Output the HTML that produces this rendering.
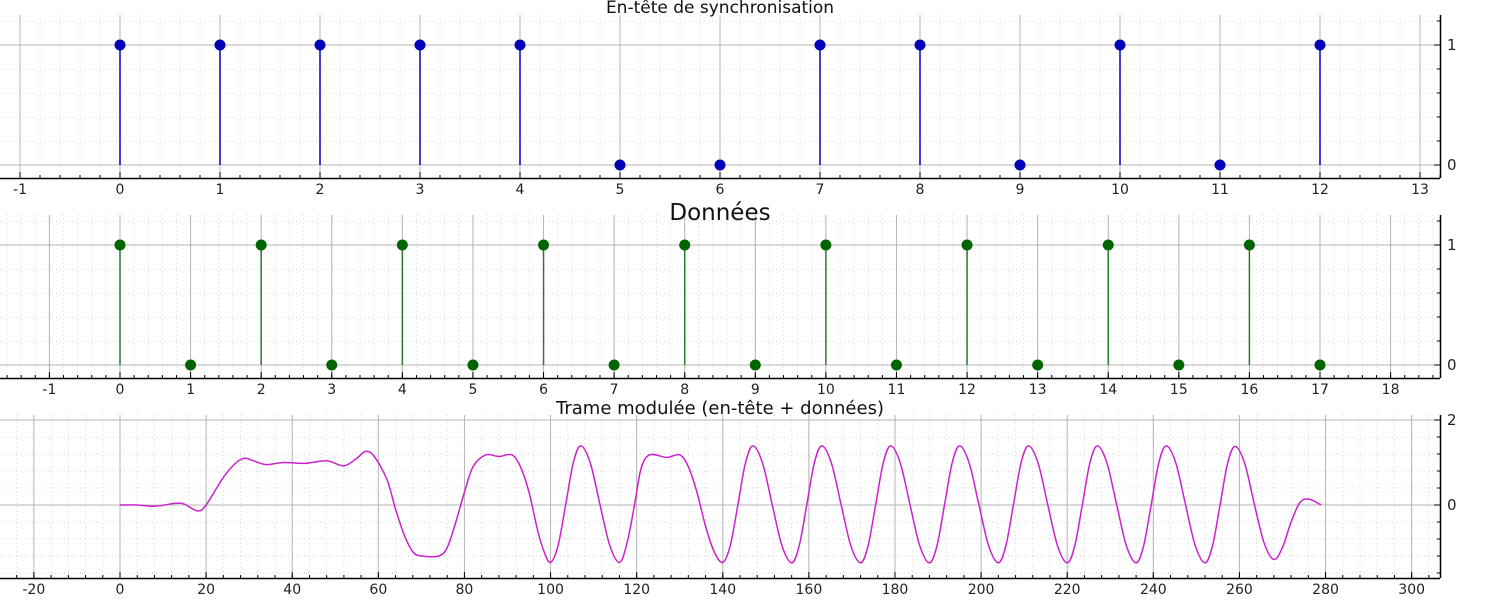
<!DOCTYPE html>
<html><head><meta charset="utf-8">
<style>
html,body{margin:0;padding:0;background:#fff;}
svg{display:block;font-family:"DejaVu Sans","Liberation Sans",sans-serif;}
</style></head>
<body>
<svg id="chart" width="1500" height="600" viewBox="0 0 1500 600" xmlns="http://www.w3.org/2000/svg"></svg>
<script>
// ---- data ----
const headerBits = [1,1,1,1,1,0,0,1,1,0,1,0,1];
const dataBits = [1,0,1,0,1,0,1,0,1,0,1,0,1,0,1,0,1,0];
const headerXTicks = ["-1","0","1","2","3","4","5","6","7","8","9","10","11","12","13"];
const dataXTicks = ["-1","0","1","2","3","4","5","6","7","8","9","10","11","12","13","14","15","16","17","18"];
const bitYTicks = ["0","1"];
const sigYTicks = ["0","2"];
const sigXTicks = ["-20","0","20","40","60","80","100","120","140","160","180","200","220","240","260","280","300"];
const sigT = [0,4,8,13,15,18,20,24,27,29,31,34,38,43,48,52,55,57,59,62,64,66,68,70,74,76,78,80,82,85,88,91,93,95,97,98.5,
  100,101.75,103.5,105.25,107,109.25,111.5,113.75,116,117.75,119.5,121,123,127,130,132,134,136,138,
  140,141.75,143.5,145.25,147,149.25,151.5,153.75,156,
  157.75,159.5,161.25,163,165.25,167.5,169.75,172,
  173.75,175.5,177.25,179,181.25,183.5,185.75,188,
  189.75,191.5,193.25,195,197.25,199.5,201.75,204,
  205.75,207.5,209.25,211,213.25,215.5,217.75,220,
  221.75,223.5,225.25,227,229.25,231.5,233.75,236,
  237.75,239.5,241.25,243,245.25,247.5,249.75,252,
  253.75,255.5,257.25,259,261.25,263.5,265.75,268,270,272,274,276,279];
const sigV = [0,0,-0.03,0.04,0.02,-0.14,0,0.65,1.0,1.1,1.04,0.95,1.0,0.98,1.04,0.92,1.1,1.26,1.15,0.6,-0.1,-0.7,-1.1,-1.2,-1.2,-1.0,-0.4,0.3,0.9,1.18,1.14,1.18,0.9,0.3,-0.6,-1.1,
  -1.35,-0.95,0,0.98,1.39,0.98,0,-0.95,-1.35,-0.9,0,0.85,1.18,1.12,1.18,0.9,0.3,-0.5,-1.1,
  -1.35,-0.95,0,0.98,1.39,0.98,0,-0.96,-1.36,
  -0.96,0,0.98,1.39,0.98,0,-0.96,-1.36,
  -0.96,0,0.98,1.39,0.98,0,-0.96,-1.36,
  -0.96,0,0.98,1.39,0.98,0,-0.96,-1.36,
  -0.96,0,0.98,1.39,0.98,0,-0.96,-1.36,
  -0.96,0,0.98,1.39,0.98,0,-0.96,-1.36,
  -0.96,0,0.98,1.39,0.98,0,-0.96,-1.36,
  -0.96,0,0.98,1.38,0.97,0,-0.9,-1.28,-1.0,-0.4,0.05,0.14,0];

const NS="http://www.w3.org/2000/svg";
const svg=document.getElementById('chart');
function mk(tag,attrs,parent){const e=document.createElementNS(NS,tag);for(const k in attrs)e.setAttribute(k,attrs[k]);(parent||svg).appendChild(e);return e;}

function panel(o){
  const g=mk('g',{});
  
  
  const L=0,R=1440,T=o.top,B=o.bottom;
  const sx=v=>o.x0+(v)*o.xs;
  const sy=v=>o.y0-(v)*o.ys;
  for(let v=Math.ceil(o.xmin/o.xminor)*o.xminor; sx(v)<=R; v+=o.xminor){const x=sx(v); if(x<L)continue;
    mk('line',{x1:x,x2:x,y1:T,y2:B,stroke:'#d6d6d6','stroke-dasharray':'1,3','stroke-width':1},g);}
  for(let v=Math.ceil(o.ymin/o.yminor)*o.yminor; sy(v)>=T; v+=o.yminor){const y=sy(v); if(y>B)continue;
    mk('line',{x1:L,x2:R,y1:y,y2:y,stroke:'#d6d6d6','stroke-dasharray':'1,3','stroke-width':1},g);}
  o.xticks.forEach(t=>{const x=sx(parseFloat(t));
    mk('line',{x1:x,x2:x,y1:T,y2:B,stroke:'#b4b4b4','stroke-width':1},g);
    mk('line',{x1:x,x2:x,y1:B-6,y2:B,stroke:'#000','stroke-width':1},g);
    const tx=mk('text',{x:x,y:B+16,'font-size':14,'text-anchor':'middle',fill:'#222'},g);tx.textContent=t;
    
    
  });
  for(let v=Math.ceil(o.xmin/o.xminor)*o.xminor; sx(v)<=R; v+=o.xminor){const x=sx(v); if(x<L)continue;
    mk('line',{x1:x,x2:x,y1:B-3,y2:B,stroke:'#000','stroke-width':1},g);}
  o.yticks.forEach(t=>{const y=sy(parseFloat(t));
    mk('line',{x1:L,x2:R,y1:y,y2:y,stroke:'#b4b4b4','stroke-width':1},g);
    mk('line',{x1:R-6,x2:R,y1:y,y2:y,stroke:'#000','stroke-width':1},g);
    const tx=mk('text',{x:R+7,y:y+5,'font-size':15,fill:'#222'},g);tx.textContent=t;
    
    
  });
  for(let v=Math.ceil(o.ymin/o.yminor)*o.yminor; sy(v)>=T; v+=o.yminor){const y=sy(v); if(y>B)continue;
    mk('line',{x1:R-3,x2:R,y1:y,y2:y,stroke:'#000','stroke-width':1},g);}
  mk('line',{x1:L,x2:R,y1:B+0.5,y2:B+0.5,stroke:'#000','stroke-width':1.5},g);
  mk('line',{x1:R+0.5,x2:R+0.5,y1:T,y2:B,stroke:'#000','stroke-width':1.5},g);
  const ti=mk('text',{x:720,y:o.titleY,'font-size':o.titleSize,'text-anchor':'middle',fill:'#111'},g);
  ti.textContent=o.title;
  
  
  return {g,sx,sy};
}

function stems(p,bits,stemC,dotC,nm){
  bits.forEach((b,i)=>{
    const x=p.sx(i);
    if(b>0){const l=mk('line',{x1:x,x2:x,y1:p.sy(0),y2:p.sy(b),stroke:stemC,'stroke-width':1.5},p.g);
      
      }
    const c=mk('circle',{cx:x,cy:p.sy(b),r:5.5,fill:dotC},p.g);
    
    
  });
}

const p1=panel({name:'header-panel',top:15,bottom:178,x0:120,xs:100,y0:165,ys:120,xmin:-1.2,xminor:0.2,ymin:-0.2,yminor:0.2,
  xticks:headerXTicks,yticks:bitYTicks,title:'En-tête de synchronisation',titleY:13,titleSize:17});
stems(p1,headerBits,'#0000cc','#0000bb','header-bit');

const p2=panel({name:'data-panel',top:215,bottom:378,x0:120,xs:1200/17,y0:365,ys:120,xmin:-1.8,xminor:0.2,ymin:-0.2,yminor:0.2,
  xticks:dataXTicks,yticks:bitYTicks,title:'Données',titleY:220,titleSize:23});
stems(p2,dataBits,'#2a7a2a','#006400','data-bit');

const p3=panel({name:'signal-panel',top:415,bottom:578,x0:120,xs:4.3055,y0:505,ys:42.5,xmin:-28,xminor:4,ymin:-2,yminor:0.4,
  xticks:sigXTicks,yticks:sigYTicks,title:'Trame modulée (en-tête + données)',titleY:414,titleSize:18});
const pts=sigT.map((t,i)=>[p3.sx(t),p3.sy(sigV[i])]);
let d='M'+pts[0][0].toFixed(2)+','+pts[0][1].toFixed(2);
for(let i=0;i<pts.length-1;i++){
  const p0=pts[Math.max(0,i-1)],a=pts[i],b=pts[i+1],p3b=pts[Math.min(pts.length-1,i+2)];
  const c1=[a[0]+(b[0]-p0[0])/6,a[1]+(b[1]-p0[1])/6];
  const c2=[b[0]-(p3b[0]-a[0])/6,b[1]-(p3b[1]-a[1])/6];
  d+=' C'+c1[0].toFixed(2)+','+c1[1].toFixed(2)+' '+c2[0].toFixed(2)+','+c2[1].toFixed(2)+' '+b[0].toFixed(2)+','+b[1].toFixed(2);
}
const path=mk('path',{d:d,fill:'none',stroke:'#cc22cc','stroke-width':1.5},p3.g);


</script>
</body></html>
